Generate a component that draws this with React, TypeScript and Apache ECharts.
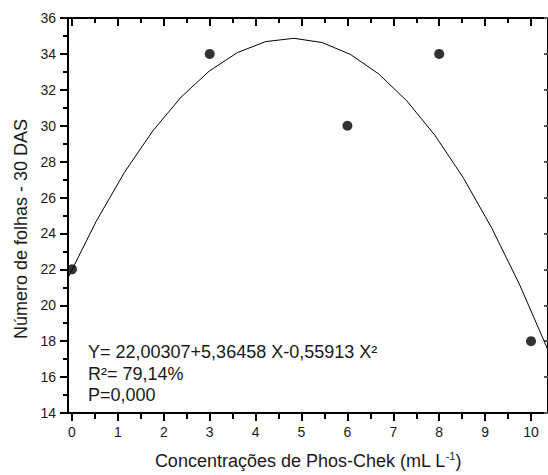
import React, { useEffect, useRef } from "react";
import * as echarts from "echarts";

// Observed values: Phos-Chek concentration (mL L-1) vs number of leaves at 30 DAS
const concentrations = [0, 3, 6, 8, 10];
const leafCounts = [22, 34, 30, 34, 18];

// Quadratic regression Y = b0 + b1 X + b2 X²
const b0 = 22.00307;
const b1 = 5.36458;
const b2 = -0.55913;

const xMin = -0.087;
const xMax = 10.37;
const xMajorTicks = [0, 1, 2, 3, 4, 5, 6, 7, 8, 9, 10];
const xMinorTicks = [0.5, 1.5, 2.5, 3.5, 4.5, 5.5, 6.5, 7.5, 8.5, 9.5];

const xTitle = "Concentrações de Phos-Chek (mL L";
const xTitleSup = "-1";
const yTitle = "Número de folhas - 30 DAS";
const annotationLines = ["Y= 22,00307+5,36458 X-0,55913 X²", "R²= 79,14%", "P=0,000"];

// Fitted curve sampled in 17 segments across the axis range
const fitCurve: number[][] = [];
const segments = 17;
for (let i = 0; i <= segments; i++) {
  const x = xMin + ((xMax - xMin) * i) / segments;
  fitCurve.push([x, b0 + b1 * x + b2 * x * x]);
}

const FONT = "Liberation Sans, Arial, sans-serif";
const TEXT = "#1a1a1a";

export default function App() {
  const ref = useRef<HTMLDivElement>(null);

  useEffect(() => {
    if (!ref.current) return;
    const chart = echarts.init(ref.current, null, { renderer: "svg" });
    const gridRect = { left: 68, right: -1, top: 18, bottom: 61 };
    chart.setOption({
      animation: false,
      grid: [gridRect, gridRect],
      xAxis: [
        {
          type: "value",
          gridIndex: 0,
          position: "bottom",
          min: xMin,
          max: xMax,
          name: `{a|${xTitle}}{s|${xTitleSup}}{a|)}`,
          nameLocation: "middle",
          nameGap: 37,
          nameTextStyle: {
            rich: {
              a: { fontSize: 18, fontFamily: FONT, color: TEXT },
              s: { fontSize: 11, fontFamily: FONT, color: TEXT, padding: [0, 0, 11, 0] },
            },
          },
          axisLine: { show: true, onZero: false, lineStyle: { color: "#000", width: 2 } },
          axisTick: { show: true, length: 8, customValues: xMajorTicks, lineStyle: { color: "#000", width: 2 } },
          axisLabel: { customValues: xMajorTicks, fontSize: 14, color: TEXT, fontFamily: FONT, margin: 12 },
          splitLine: { show: false },
        },
        {
          type: "value",
          gridIndex: 0,
          position: "top",
          min: xMin,
          max: xMax,
          axisLine: { show: true, onZero: false, lineStyle: { color: "#000", width: 2 } },
          axisTick: { show: true, inside: true, length: 8, customValues: xMajorTicks, lineStyle: { color: "#000", width: 2 } },
          axisLabel: { show: false },
          splitLine: { show: false },
        },
        {
          type: "value",
          gridIndex: 1,
          position: "bottom",
          min: xMin,
          max: xMax,
          axisLine: { show: false, onZero: false },
          axisTick: { show: true, length: 5, customValues: xMinorTicks, lineStyle: { color: "#000", width: 2 } },
          axisLabel: { show: false },
          splitLine: { show: false },
        },
        {
          type: "value",
          gridIndex: 1,
          position: "top",
          min: xMin,
          max: xMax,
          axisLine: { show: false, onZero: false },
          axisTick: { show: true, inside: true, length: 5, customValues: xMinorTicks, lineStyle: { color: "#000", width: 2 } },
          axisLabel: { show: false },
          splitLine: { show: false },
        },
      ],
      yAxis: [
        {
          type: "value",
          gridIndex: 0,
          position: "left",
          min: 14,
          max: 36,
          interval: 2,
          axisLine: { show: true, onZero: false, lineStyle: { color: "#000", width: 2 } },
          axisTick: { show: true, length: 8, lineStyle: { color: "#000", width: 2 } },
          minorTick: { show: true, splitNumber: 2, length: 5, lineStyle: { color: "#000", width: 2 } },
          axisLabel: { fontSize: 14, color: TEXT, fontFamily: FONT, margin: 12 },
          splitLine: { show: false },
        },
        {
          type: "value",
          gridIndex: 0,
          position: "right",
          min: 14,
          max: 36,
          interval: 2,
          axisLine: { show: true, onZero: false, lineStyle: { color: "#000", width: 2 } },
          axisTick: { show: true, inside: true, length: 4, lineStyle: { color: "#555", width: 2 } },
          axisLabel: { show: false },
          splitLine: { show: false },
        },
        { type: "value", gridIndex: 1, min: 14, max: 36, show: false },
      ],
      series: [
        {
          type: "line",
          xAxisIndex: 0,
          yAxisIndex: 0,
          data: fitCurve,
          showSymbol: false,
          symbol: "none",
          lineStyle: { color: "#000", width: 1 },
          silent: true,
          z: 2,
        },
        {
          type: "scatter",
          xAxisIndex: 0,
          yAxisIndex: 0,
          data: concentrations.map((c, i) => [c, leafCounts[i]]),
          symbol: "circle",
          symbolSize: 10,
          itemStyle: { color: "#000" },
          z: 3,
        },
      ],
      graphic: [
        {
          type: "text",
          x: 21,
          y: 229,
          rotation: Math.PI / 2,
          style: {
            text: yTitle,
            font: `18px ${FONT}`,
            fill: TEXT,
            align: "center",
            verticalAlign: "middle",
          },
        },
        ...annotationLines.map((line, i) => ({
          type: "text",
          x: 88,
          y: 343 + i * 21.5,
          style: { text: line, font: `18px ${FONT}`, fill: TEXT, align: "left", verticalAlign: "top" },
        })),
      ],
    });
    return () => chart.dispose();
  }, []);

  return (
    <div
      ref={ref}
      style={{ position: "fixed", left: 0, top: 0, width: 548, height: 475, background: "#fff" }}
    />
  );
}
